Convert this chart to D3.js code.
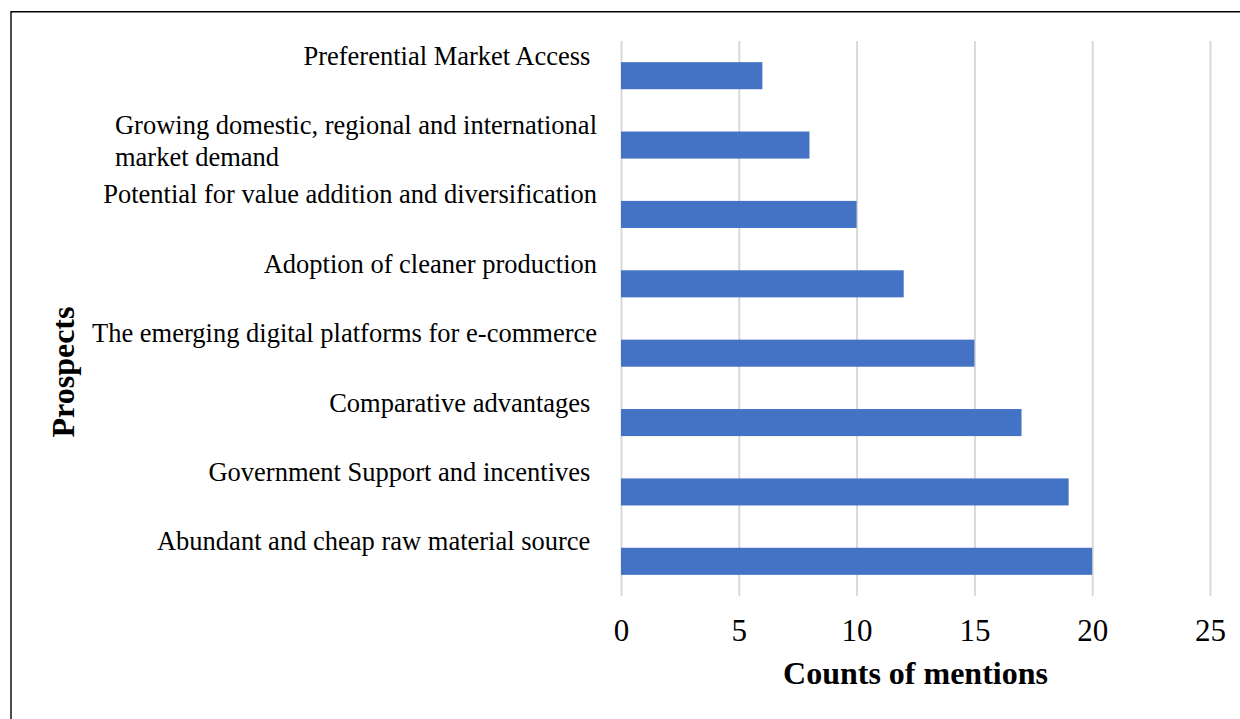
<!DOCTYPE html>
<html>
<head>
<meta charset="utf-8">
<script src="https://cdn.jsdelivr.net/npm/d3@7"></script>
<style>
  html, body { margin: 0; padding: 0; background: #fff; }
  svg { display: block; }
</style>
</head>
<body>
<svg id="chart" width="1240" height="719"></svg>
<script>
// Prospects, listed top to bottom; "\n" breaks a label onto a second line
const categories = [
  "Preferential Market Access ",
  "Growing domestic, regional and international\nmarket demand",
  "Potential for value addition and diversification",
  "Adoption of cleaner production",
  "The emerging digital platforms for e-commerce",
  "Comparative advantages ",
  "Government Support and incentives ",
  "Abundant and cheap raw material source "
];
const mentions = [6, 8, 10, 12, 15, 17, 19, 20];
const tickValues = [0, 5, 10, 15, 20, 25];
const xTitle = "Counts of mentions";
const yTitle = "Prospects";

const rows = categories.map((c, i) => ({ category: c, value: mentions[i] }));

const W = 1240, H = 719;
const plot = { left: 621, right: 1210, top: 41, bottom: 596 };
const serif = "'Liberation Serif', 'Times New Roman', Times, serif";
const barColor = "#4472C4";

const svg = d3.select("#chart");

svg.append("rect").attr("width", W).attr("height", H).attr("fill", "#fff");

// frame: left and top edges
svg.append("path")
  .attr("d", `M11,${H + 5}V11.7H${W + 5}`)
  .attr("fill", "none")
  .attr("stroke", "#000")
  .attr("stroke-width", 1.4);

const x = d3.scaleLinear().domain([0, 25]).range([plot.left, plot.right]);
const y = d3.scaleBand()
  .domain(categories)
  .range([plot.top, plot.bottom])
  .paddingInner(0.61)
  .paddingOuter(0.305);

// x axis: vertical gridlines plus tick labels
const xAxis = svg.append("g")
  .attr("transform", `translate(0,${plot.bottom})`)
  .call(d3.axisBottom(x)
    .tickValues(tickValues)
    .tickSize(-(plot.bottom - plot.top))
    .tickPadding(23)
    .tickFormat(d3.format("d")));
xAxis.select(".domain").remove();
xAxis.selectAll(".tick line")
  .attr("stroke", "#d9d9d9")
  .attr("stroke-width", 2);
xAxis.selectAll(".tick text")
  .attr("fill", "#000")
  .attr("font-family", serif)
  .attr("font-size", 31);

// bars
svg.append("g")
  .selectAll("rect")
  .data(rows)
  .join("rect")
  .attr("x", x(0))
  .attr("y", d => y(d.category))
  .attr("width", d => x(d.value) - x(0))
  .attr("height", y.bandwidth())
  .attr("fill", barColor);

// category labels: lines left-aligned inside a block right-aligned at labelRight
const labelRight = 597;
const lineHeight = 32;
const labels = svg.append("g")
  .attr("font-family", serif)
  .attr("font-size", 26.5)
  .attr("fill", "#000");

rows.forEach(d => {
  const lines = d.category.split("\n");
  const t = labels.append("text")
    .style("white-space", "pre")
    .attr("y", y(d.category) + 2.5);
  const spans = lines.map((line, j) =>
    t.append("tspan").attr("dy", j === 0 ? 0 : lineHeight).text(line));
  const widest = d3.max(spans, s => s.node().getComputedTextLength());
  spans.forEach(s => s.attr("x", labelRight - widest));
});

// axis titles
svg.append("text")
  .attr("x", 915.5)
  .attr("y", 684)
  .attr("text-anchor", "middle")
  .attr("font-family", serif)
  .attr("font-weight", "bold")
  .attr("font-size", 32)
  .attr("fill", "#000")
  .text(xTitle);

svg.append("text")
  .attr("transform", "translate(74,372) rotate(-90)")
  .attr("text-anchor", "middle")
  .attr("font-family", serif)
  .attr("font-weight", "bold")
  .attr("font-size", 32)
  .attr("fill", "#000")
  .text(yTitle);
</script>
</body>
</html>
